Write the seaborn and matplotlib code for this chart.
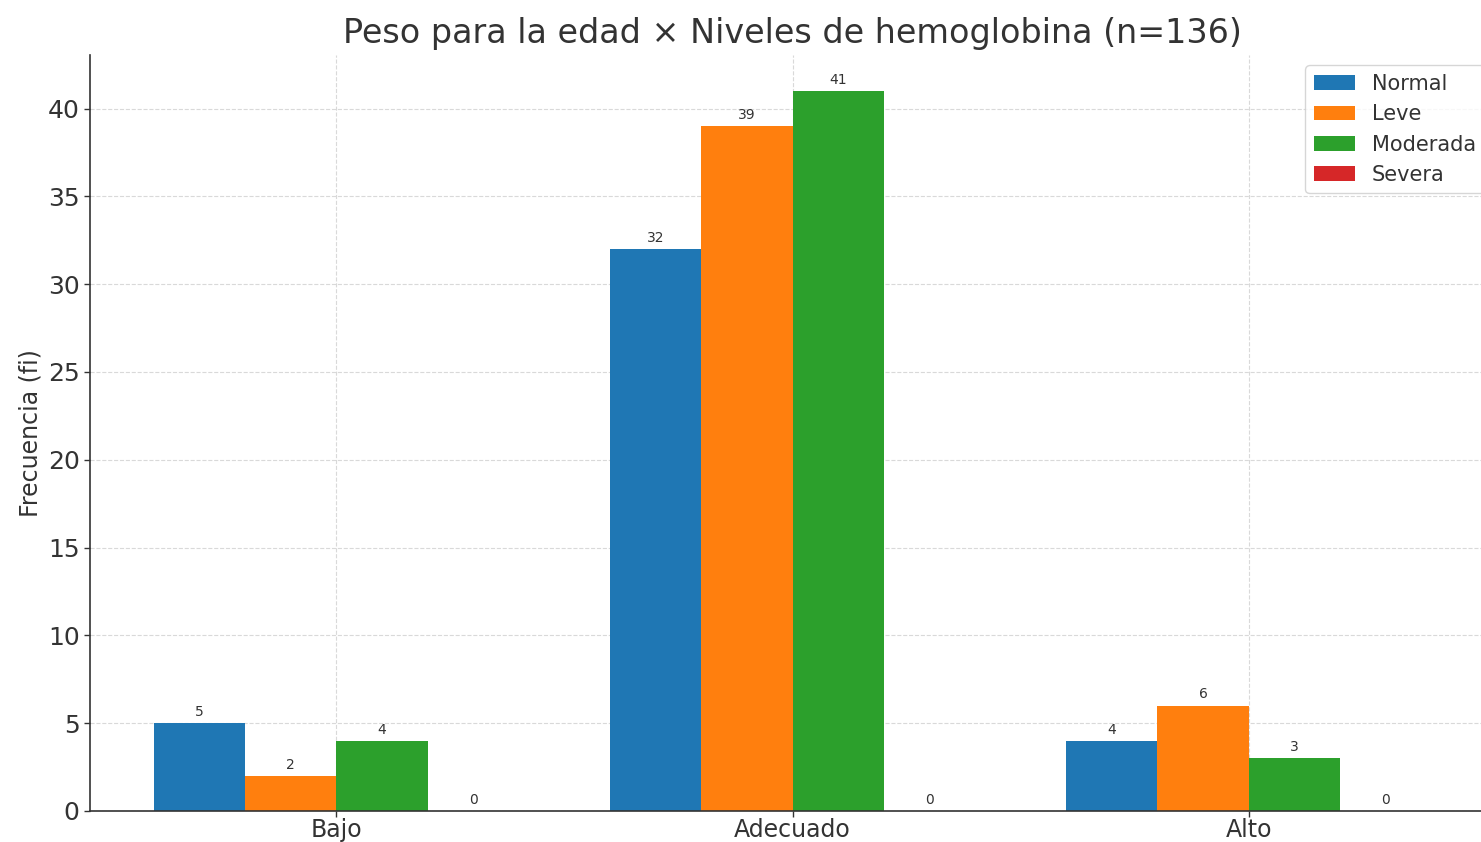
import matplotlib
matplotlib.use("Agg")
import matplotlib.pyplot as plt
import seaborn as sns
import pandas as pd

categories = ["Bajo", "Adecuado", "Alto"]
series = ["Normal", "Leve", "Moderada", "Severa"]
normal = [5, 32, 4]
leve = [2, 39, 6]
moderada = [4, 41, 3]
severa = [0, 0, 0]
title = "Peso para la edad × Niveles de hemoglobina (n=136)"
ylabel = "Frecuencia (fi)"

values = {"Normal": normal, "Leve": leve, "Moderada": moderada, "Severa": severa}
rows = []
for s in series:
    for c, v in zip(categories, values[s]):
        rows.append({"cat": c, "serie": s, "val": v})
df = pd.DataFrame(rows)

sns.set_style("white")
plt.rcParams['font.family'] = ['DejaVu Sans']
text_color = "#333333"

fig = plt.figure(figsize=(14.81, 8.42), dpi=100)
ax = fig.add_axes([90/1481, 31/842, 1405/1481, 756/842])

palette = ["#1f77b4", "#ff7f0e", "#2ca02c", "#d62728"]
sns.barplot(data=df, x="cat", y="val", hue="serie", order=categories,
            hue_order=series, palette=palette, errorbar=None, ax=ax,
            saturation=1, width=0.8, edgecolor="none", linewidth=0)

for cont in ax.containers:
    ax.bar_label(cont, fmt="%d", padding=3, fontsize=10, color=text_color)

ax.set_xlim(-0.54, 2.54)
ax.set_ylim(0, 43.05)
ax.set_yticks([0, 5, 10, 15, 20, 25, 30, 35, 40])
ax.grid(True, axis="both", linestyle="--", linewidth=0.8, color="#d0d0d0", alpha=0.8)
ax.set_axisbelow(True)

ax.set_title(title, fontsize=24, color=text_color, pad=9)
ax.set_xlabel("")
ax.set_ylabel(ylabel, fontsize=17, color=text_color)
ax.tick_params(axis="both", labelsize=18, colors=text_color, length=4, width=1,
               direction="out")
ax.tick_params(axis="x", labelsize=17, pad=1)
ax.tick_params(left=True, bottom=True)
for sp in ["top", "right"]:
    ax.spines[sp].set_visible(False)
for sp in ["left", "bottom"]:
    ax.spines[sp].set_color("#333333")
    ax.spines[sp].set_linewidth(1.2)

leg = ax.legend(loc="upper right", fontsize=15, frameon=True, title=None)
for t in leg.get_texts():
    t.set_color(text_color)

fig.savefig("out.png", dpi=100)
